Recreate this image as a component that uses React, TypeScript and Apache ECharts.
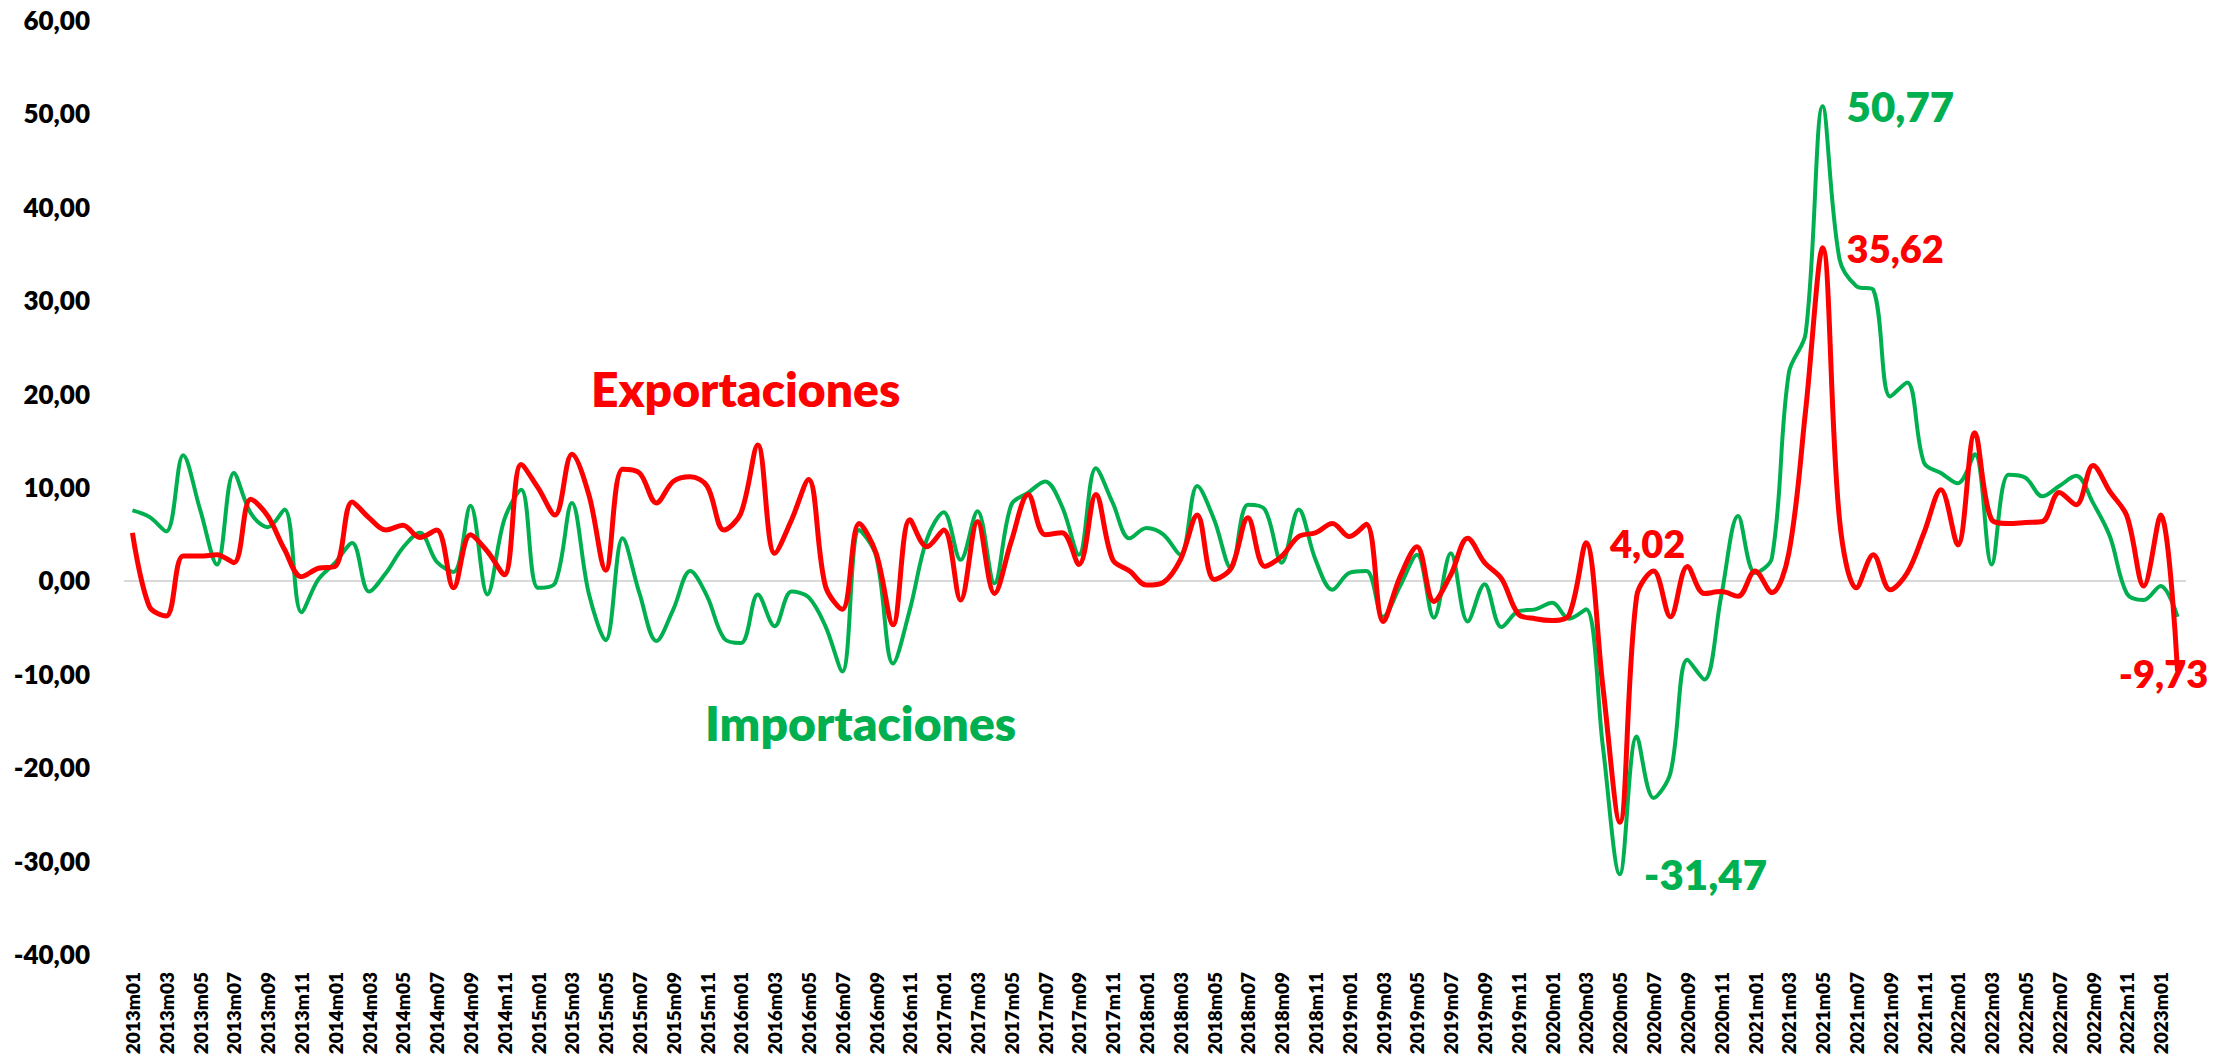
import React, { useEffect, useRef } from "react";
import * as echarts from "echarts";

// Months 2013m01 .. 2023m02
const firstYear = 2013;
const monthCount = 122;
const categories: string[] = [];
for (let k = 0; k < monthCount; k++) {
  const y = firstYear + Math.floor(k / 12);
  const m = (k % 12) + 1;
  categories.push(`${y}m${m < 10 ? "0" + m : m}`);
}

const exportaciones: number[] = [
  5.1, -2.8, -3.8, 2.6, 2.6, 2.75, 1.9, 8.7, 6.9, 3.3, 0.4, 1.3,
  1.5, 8.4, 6.7, 5.4, 5.9, 4.6, 5.4, -0.8, 4.9, 3.1, 0.6, 12.4,
  9.9, 7.0, 13.5, 9.2, 1.1, 11.9, 11.5, 8.3, 10.6, 11.1, 10.1, 5.4,
  7.2, 14.5, 2.9, 6.5, 10.8, -0.6, -3.1, 6.1, 2.9, -4.75, 6.5, 3.6,
  5.4, -2.1, 6.3, -1.4, 4.2, 9.2, 4.9, 5.1, 1.7, 9.2, 2.2, 1.0,
  -0.5, -0.2, 2.2, 7.0, 0.1, 1.3, 6.7, 1.5, 2.6, 4.7, 5.1, 6.1,
  4.7, 6.0, -4.4, 0.4, 3.6, -2.25, 0.6, 4.5, 1.9, 0.2, -3.6, -4.1,
  -4.3, -3.7, 4.02, -11.4, -25.9, -1.7, 1.0, -3.9, 1.5, -1.4, -1.2, -1.7,
  1.0, -1.3, 2.9, 18.3, 35.62, 6.5, -0.8, 2.75, -1.0, 0.8, 5.1, 9.7,
  3.8, 15.8, 6.5, 6.1, 6.2, 6.3, 9.4, 8.1, 12.3, 9.5, 6.9, -0.6,
  7.0, -9.73,
];

const importaciones: number[] = [
  7.5, 6.8, 5.25, 13.4, 7.6, 1.7, 11.5, 7.2, 5.7, 7.6, -3.4, 0.1,
  1.9, 4.0, -1.2, 0.8, 3.5, 5.1, 2.0, 0.9, 8.0, -1.5, 6.5, 9.7,
  -0.8, -0.3, 8.3, -1.4, -6.4, 4.5, -1.4, -6.5, -3.1, 1.0, -1.7, -6.2,
  -6.7, -1.5, -4.9, -1.2, -1.8, -4.9, -9.75, 5.4, 2.6, -8.9, -3.1, 4.4,
  7.3, 2.2, 7.4, -0.3, 8.1, 9.4, 10.6, 7.9, 2.75, 12.0, 8.3, 4.5,
  5.6, 4.9, 2.75, 10.1, 6.5, 1.3, 8.1, 7.6, 1.9, 7.6, 2.2, -1.0,
  0.8, 1.0, -3.9, -0.6, 2.75, -4.0, 2.9, -4.4, -0.4, -5.0, -3.3, -3.1,
  -2.4, -4.1, -3.1, -17.8, -31.47, -16.7, -23.3, -20.6, -8.5, -10.6, -1.7, 6.9,
  0.8, 2.4, 22.2, 26.5, 50.77, 34.4, 31.5, 31.1, 19.7, 21.2, 12.6, 11.5,
  10.4, 13.5, 1.7, 11.3, 11.0, 9.0, 10.1, 11.2, 8.3, 4.7, -1.4, -2.1,
  -0.6, -3.9,
];

// Annotated points: [category index, value]
const expAnnotations: [number, number][] = [
  [86, 4.02],
  [100, 35.62],
];
const expLastIndex = 121;
const impAnnotations: [number, number][] = [
  [100, 50.77],
  [88, -31.47],
];

const yMin = -40;
const yMax = 60;
const yStep = 10;

const RED = "#FF0000";
const GREEN = "#00B050";
const FONT = "Lato";
const WEIGHT = 800;

const fmt = (v: number) => v.toFixed(2).replace(".", ",");

export default function App() {
  const ref = useRef<HTMLDivElement>(null);

  useEffect(() => {
    if (!ref.current) return;
    const chart = echarts.init(ref.current, undefined, { renderer: "svg" });

    const pointLabel = (color: string, size: number) => ({
      show: true,
      position: "right" as const,
      distance: 24,
      color,
      fontFamily: FONT,
      fontWeight: WEIGHT,
      fontSize: size,
      formatter: (p: any) => fmt(p.value),
    });

    chart.setOption({
      animation: false,
      backgroundColor: "#ffffff",
      grid: { left: 124, right: 47, top: 20, bottom: 110 },
      xAxis: {
        type: "category",
        data: categories,
        boundaryGap: true,
        axisLine: { show: false },
        axisTick: { show: false },
        axisLabel: {
          interval: 1,
          rotate: 90,
          margin: 18,
          color: "#000",
          fontFamily: FONT,
          fontWeight: WEIGHT,
          fontSize: 19,
        },
        splitLine: { show: false },
      },
      yAxis: {
        type: "value",
        min: yMin,
        max: yMax,
        interval: yStep,
        axisLine: { show: false },
        axisTick: { show: false },
        splitLine: { show: false },
        axisLabel: {
          margin: 34,
          color: "#000",
          fontFamily: FONT,
          fontWeight: WEIGHT,
          fontSize: 26,
          formatter: (v: number) => fmt(v),
        },
      },
      graphic: [
        {
          type: "text",
          left: 591,
          top: 364,
          style: {
            text: "Exportaciones",
            fill: RED,
            font: `${WEIGHT} 48px ${FONT}`,
          },
        },
        {
          type: "text",
          left: 705,
          top: 698,
          style: {
            text: "Importaciones",
            fill: GREEN,
            font: `${WEIGHT} 48px ${FONT}`,
          },
        },
      ],
      series: [
        {
          name: "Importaciones",
          type: "line",
          data: importaciones,
          smooth: 0.35,
          showSymbol: false,
          symbol: "none",
          z: 2,
          lineStyle: { color: GREEN, width: 4 },
          itemStyle: { color: GREEN },
          markLine: {
            silent: true,
            symbol: "none",
            label: { show: false },
            lineStyle: { color: "#d9d9d9", width: 2, type: "solid" },
            data: [{ yAxis: 0 }],
            z: 1,
          },
          markPoint: {
            symbol: "circle",
            symbolSize: 0,
            data: impAnnotations.map(([i, v]) => ({
              coord: [i, v],
              value: v,
              label: pointLabel(GREEN, 42),
            })),
          },
        },
        {
          name: "Exportaciones",
          type: "line",
          data: exportaciones,
          smooth: 0.35,
          showSymbol: false,
          symbol: "none",
          z: 3,
          lineStyle: { color: RED, width: 5 },
          itemStyle: { color: RED },
          markPoint: {
            symbol: "circle",
            symbolSize: 0,
            data: [
              ...expAnnotations.map(([i, v]) => ({
                coord: [i, v],
                value: v,
                label: pointLabel(RED, 38),
              })),
              {
                coord: [expLastIndex, exportaciones[expLastIndex]],
                value: exportaciones[expLastIndex],
                label: {
                  show: true,
                  position: "inside",
                  offset: [-14, 2],
                  color: RED,
                  fontFamily: FONT,
                  fontWeight: WEIGHT,
                  fontSize: 38,
                  formatter: (p: any) => fmt(p.value),
                },
              },
            ],
          },
        },
      ],
    });

    return () => chart.dispose();
  }, []);

  return (
    <div
      ref={ref}
      style={{ position: "fixed", left: 0, top: 0, width: 2233, height: 1064 }}
    />
  );
}
